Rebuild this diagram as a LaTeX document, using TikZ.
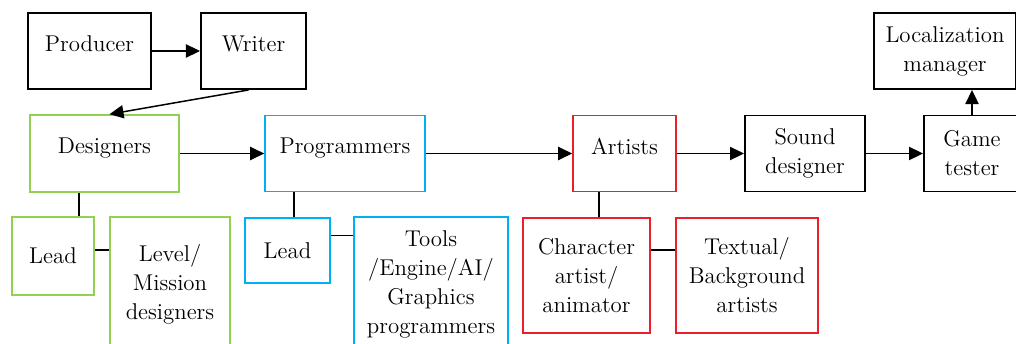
\documentclass[tikz,border=0pt]{standalone}
\usepackage{tikz}
\usetikzlibrary{arrows.meta}
\definecolor{desgreen}{RGB}{146,208,80}
\definecolor{progblue}{RGB}{0,176,240}
\definecolor{artred}{RGB}{232,32,44}

\begin{document}
\begin{tikzpicture}[x=0.02cm, y=-0.02cm,
		box/.style={draw, rectangle, line width=1.1pt, inner sep=2pt, align=center,
			font=\fontsize{13}{16.5}\selectfont},
		greenbox/.style={box, draw=desgreen, line width=0.9pt},
		bluebox/.style={box, draw=progblue, line width=0.9pt},
		redbox/.style={box, draw=artred, line width=0.9pt},
		raised/.style={text depth=0.3cm},
		link/.style={line width=0.85pt},
		flow/.style={link, ->, >={Triangle[length=8pt, width=7.5pt]}}]
				\clip (0,0) rectangle (1016,344);
				\node[box, raised, minimum width=2.46cm, minimum height=1.52cm] (producer)at(89.5, 51) {Producer};
				\node[box, raised, minimum width=2.1cm, minimum height=1.52cm] (writer)at(253.5, 51) {Writer};
				\node[box, minimum width=2.84cm, minimum height=1.52cm] (loc)at(945, 51) {Localization\\manager};
				\node[greenbox, raised, minimum width=2.98cm, minimum height=1.54cm] (designers)at(104.5, 153.5) {Designers};
				\node[bluebox, raised, minimum width=3.2cm, minimum height=1.52cm] (programmers)at(345, 153.5) {Programmers};
				\node[redbox, raised, minimum width=2.06cm, minimum height=1.52cm] (artists)at(624.5, 153.5) {Artists};
				\node[box, minimum width=2.4cm, minimum height=1.52cm] (sound)at(805, 153.5) {Sound\\designer};
				\node[box, minimum width=1.92cm, minimum height=1.52cm] (game)at(972, 153.5) {Game\\tester};
				\node[greenbox, minimum width=1.64cm, minimum height=1.56cm] (dlead)at(53, 256) {Lead};
				\node[greenbox, minimum width=2.4cm, minimum height=2.7cm] (level)at(170, 284.5) {Level/\\Mission\\designers};
				\node[bluebox, minimum width=1.7cm, minimum height=1.3cm] (plead)at(287.5, 250.5) {Lead};
				\node[bluebox, minimum width=3.08cm, minimum height=2.7cm] (tools)at(431, 284.5) {Tools\\/Engine/AI/\\Graphics\\programmers};
				\node[redbox, minimum width=2.54cm, minimum height=2.3cm] (character)at(586.5, 275.5) {Character\\artist/\\animator};
				\node[redbox, minimum width=2.84cm, minimum height=2.3cm] (textual)at(747, 275.5) {Textual/\\Background\\artists};
				\draw[flow] (producer) -- (writer);
				\draw[flow] ([xshift=-0.1cm]writer.south) -- ([xshift=0.1cm]designers.north);
				\draw[flow] (designers) -- (programmers);
				\draw[flow] (programmers) -- (artists);
				\draw[flow] (artists) -- (sound);
				\draw[flow] (sound) -- (game);
				\draw[flow] (game.north) -- (game.north |- loc.south);
				\draw[link] ([xshift=-0.51cm]designers.south) -- ([xshift=-0.51cm]designers.south |- dlead.north);
				\draw[link] ([yshift=0.12cm]dlead.east) -- ([yshift=0.12cm]dlead.east -| level.west);
				\draw[link] ([xshift=0.13cm]plead.north) -- ([xshift=0.13cm]plead.north |- programmers.south);
				\draw[link] ([yshift=0.3cm]plead.east) -- ([yshift=0.3cm]plead.east -| tools.west);
				\draw[link] ([xshift=-0.51cm]artists.south) -- ([xshift=-0.51cm]artists.south |- character.north);
				\draw[link] ([yshift=0.51cm]character.east) -- ([yshift=0.51cm]character.east -| textual.west);
			\end{tikzpicture}
\end{document}
